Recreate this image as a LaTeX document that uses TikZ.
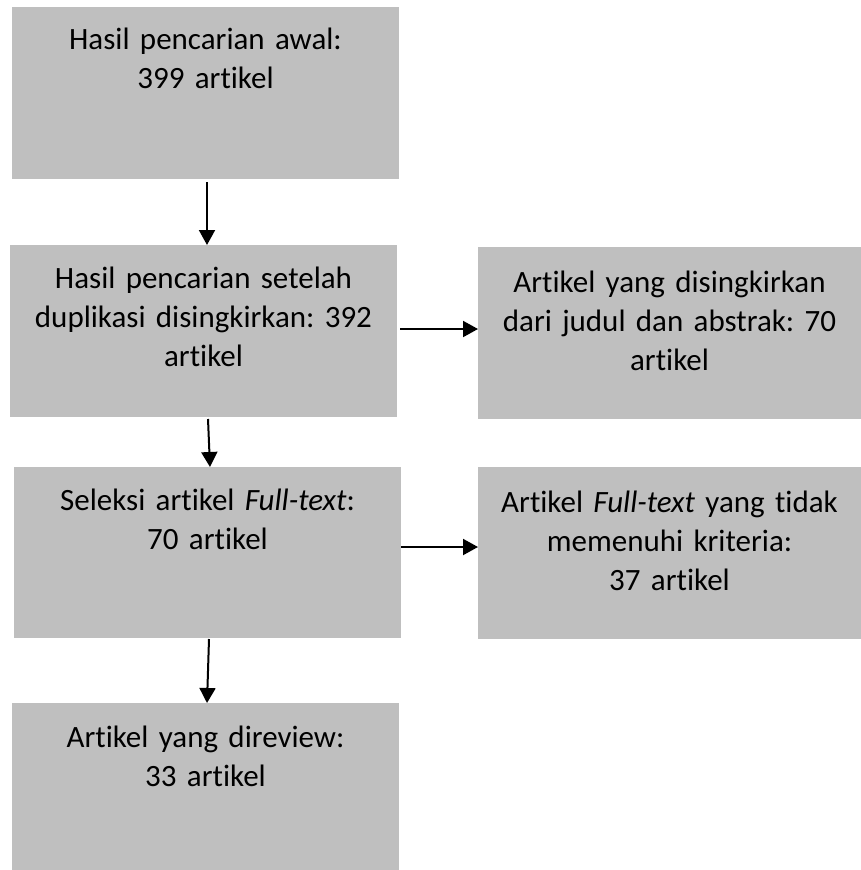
\documentclass[tikz,border=0pt]{standalone}
\usepackage{fontspec}
\setmainfont{Carlito}[Ligatures={NoCommon}]
\usepackage{tikz}
\usetikzlibrary{arrows.meta, positioning}

\definecolor{kotakabu}{HTML}{BFBFBF}
\frenchspacing

\begin{document}
\begin{tikzpicture}[
    x=1pt,
    y=-1pt,
    kotak/.style={rectangle,fill=kotakabu,inner sep=0pt,outer sep=0pt,minimum width=387pt,minimum height=172pt},
    kotak kanan/.style={kotak,minimum width=383pt},
    teks/.style={text width=380pt,align=center,inner sep=0pt,anchor=base,font=\fontsize{31}{39}\selectfont},
    arrow/.style={-{Triangle[length=15pt,width=16pt]},line width=2pt}
]
\useasboundingbox (0,0) rectangle (861,870);

% kotak alur utama
\node[kotak] (awal) at (205.5,93) {};
\node[kotak] (duplikasi) at (203.5,331) {};
\node[kotak,minimum height=171pt] (seleksi) at (207.5,552.5) {};
\node[kotak,minimum height=167pt] (review) at (205.5,786.5) {};

% kotak artikel yang dikeluarkan
\node[kotak kanan] (singkir) at (669.5,333) {};
\node[kotak kanan] (tidak) at (669.5,553) {};

% teks
\node[teks] (awal-t) at ([yshift=-42pt]awal.north) {Hasil pencarian awal:\\399 artikel};
\node[teks] (duplikasi-t) at ([yshift=-43pt]duplikasi.north) {Hasil pencarian setelah\\duplikasi disingkirkan: 392\\artikel};
\node[teks] (seleksi-t) at ([yshift=-43pt]seleksi.north) {Seleksi artikel \textit{Full-text}:\\70 artikel};
\node[teks] (review-t) at ([yshift=-44pt]review.north) {Artikel yang direview:\\33 artikel};
\node[teks] (singkir-t) at ([yshift=-45pt]singkir.north) {Artikel yang disingkirkan\\dari judul dan abstrak: 70\\artikel};
\node[teks] (tidak-t) at ([yshift=-45pt]tidak.north) {Artikel \textit{Full-text} yang tidak\\memenuhi kriteria:\\37 artikel};

% panah
\draw[arrow] ([xshift=1.5pt,yshift=-3pt]awal.south) -- ([xshift=3.5pt]duplikasi.north);
\draw[arrow] ([xshift=4.5pt,yshift=-2pt]duplikasi.south) -- ([xshift=2.5pt]seleksi.north);
\draw[arrow] ([xshift=1.5pt,yshift=-1pt]seleksi.south) -- ([xshift=1.5pt]review.north);
\draw[arrow] ([xshift=3pt,yshift=2pt]duplikasi.east) -- ([yshift=2pt]duplikasi.east -| singkir.west);
\draw[arrow] ([yshift=5.5pt]seleksi.east) -- ([yshift=5.5pt]seleksi.east -| tidak.west);

\end{tikzpicture}
\end{document}
